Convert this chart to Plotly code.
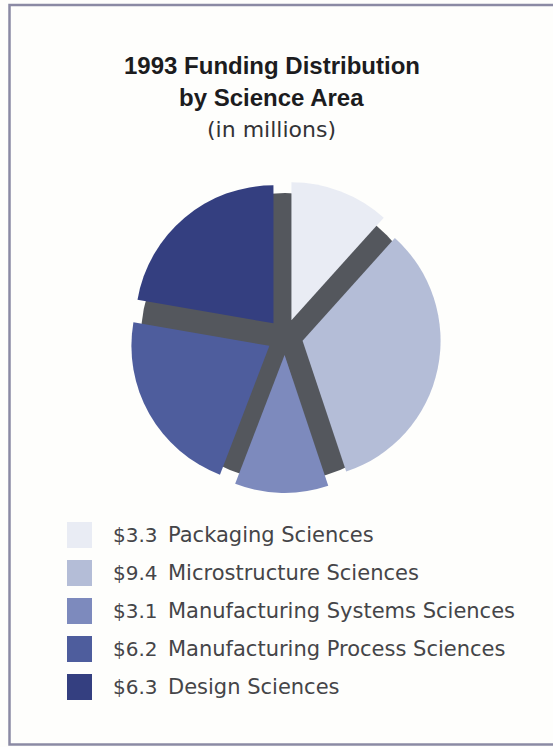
import plotly.graph_objects as go

# Funding by science area, 1993 (millions of dollars)
areas = [
    "Packaging Sciences",
    "Microstructure Sciences",
    "Manufacturing Systems Sciences",
    "Manufacturing Process Sciences",
    "Design Sciences",
]
funding = [3.3, 9.4, 3.1, 6.2, 6.3]
slice_colors = ["#e9ecf4", "#b4bdd7", "#7d8abd", "#4e5d9d", "#343f80"]

title_lines = ["1993 Funding Distribution", "by Science Area"]
subtitle = "(in millions)"

W, H = 553, 747
cx, cy = 285, 337          # pie centre in pixels (from top-left)
R = 138                    # slice radius
pull = 0.13                # explode distance as a fraction of R
R_base = 144               # radius of the dark base disc


def px(x):
    return x / W


def py(y):
    return 1 - y / H


fig = go.Figure()

# dark base disc that shows through the gaps between exploded slices
fig.add_trace(go.Pie(
    values=[1],
    marker=dict(colors=["#54575d"], line=dict(width=0)),
    textinfo="none", hoverinfo="skip", showlegend=False, sort=False,
    domain=dict(x=[px(cx - R_base), px(cx + R_base)],
                y=[py(cy + R_base), py(cy - R_base)]),
))

half = R * (1 + pull)
fig.add_trace(go.Pie(
    labels=areas, values=funding,
    marker=dict(colors=slice_colors, line=dict(width=0)),
    pull=[pull] * len(funding),
    sort=False, direction="clockwise", rotation=0,
    textinfo="none", hoverinfo="label+value", showlegend=False,
    domain=dict(x=[px(cx - half), px(cx + half)],
                y=[py(cy + half), py(cy - half)]),
))

shapes = []
annotations = []

# page frame
shapes.append(dict(type="rect", xref="paper", yref="paper",
                   x0=px(9.5), x1=px(W + 20), y0=py(744.5), y1=py(5),
                   line=dict(color="#8b8aa4", width=2.5), layer="above"))

# title
title_x = 271.5
for line, y in zip(title_lines, [66, 97]):
    annotations.append(dict(
        text=line, x=px(title_x), y=py(y), xref="paper", yref="paper",
        xanchor="center", yanchor="middle", showarrow=False,
        font=dict(family="Liberation Sans", size=24, color="#1c1c1e"),
    ))
annotations.append(dict(
    text=subtitle, x=px(title_x), y=py(130), xref="paper", yref="paper",
    xanchor="center", yanchor="middle", showarrow=False,
    font=dict(family="DejaVu Sans", size=22, color="#333336"),
))
annotations[0]["text"] = "<b>" + title_lines[0] + "</b>"
annotations[1]["text"] = "<b>" + title_lines[1] + "</b>"

# key: swatch, amount, area name
row0, row_step = 535, 38.0
for i, (name, val, col) in enumerate(zip(areas, funding, slice_colors)):
    yc = row0 + i * row_step
    shapes.append(dict(type="rect", xref="paper", yref="paper",
                       x0=px(67), x1=px(92), y0=py(yc + 13), y1=py(yc - 13),
                       fillcolor=col, line=dict(width=0)))
    annotations.append(dict(
        text=f"${val:.1f}", x=px(111), y=py(yc), xref="paper", yref="paper",
        xanchor="left", yanchor="middle", showarrow=False,
        font=dict(family="DejaVu Sans", size=20, color="#454548"),
    ))
    annotations.append(dict(
        text=name, x=px(166), y=py(yc), xref="paper", yref="paper",
        xanchor="left", yanchor="middle", showarrow=False,
        font=dict(family="DejaVu Sans", size=21, color="#454548"),
    ))

fig.update_layout(
    width=W, height=H,
    margin=dict(l=0, r=0, t=0, b=0),
    paper_bgcolor="#fefefc",
    plot_bgcolor="#fefefc",
    shapes=shapes,
    annotations=annotations,
    showlegend=False,
)

fig.write_html("out.html")
